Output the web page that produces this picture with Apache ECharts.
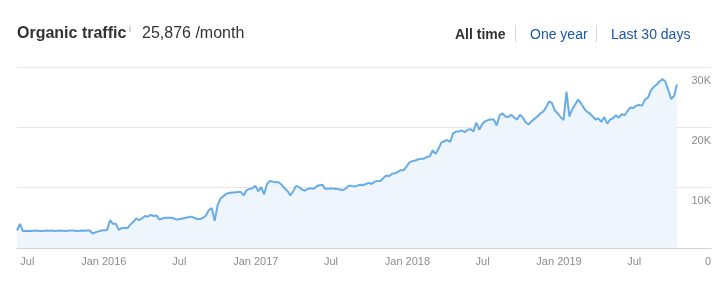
<!DOCTYPE html>
<html>
<head>
<meta charset="utf-8">
<script src="https://cdn.jsdelivr.net/npm/echarts@6/dist/echarts.min.js"></script>
<style>
html,body{margin:0;padding:0;background:#fff;}
#chart{width:717px;height:281px;}
</style>
</head>
<body>
<div id="chart"></div>
<script>
// Weekly samples starting 2015-06-06 (values in visits/month)
const startDate = '2015-06-06';
const stepDays = 7;
const trafficK = [
  2.9,4.0,2.8,2.8,2.85,2.8,2.9,2.85,2.8,2.8,2.9,2.85,2.9,2.8,2.85,2.9,2.85,2.8,2.9,2.9,2.85,2.8,2.9,2.85,2.9,
  2.9,2.4,2.6,2.75,2.9,2.95,3.0,4.6,4.0,4.0,3.0,3.3,3.3,3.3,3.9,4.3,4.9,4.6,4.9,5.3,5.2,5.5,5.3,5.4,4.7,
  4.9,5.0,5.0,5.0,4.9,4.7,4.8,4.9,5.0,5.1,5.2,5.0,4.8,4.8,5.0,5.4,6.3,6.6,4.5,7.1,8.2,8.6,9.0,9.1,9.2,
  9.2,9.3,9.3,8.7,9.6,9.8,9.9,10.3,9.4,10.1,8.9,10.6,11.1,11.0,10.9,10.9,10.5,9.9,9.5,8.7,9.4,10.3,10.1,9.7,9.5,
  9.8,9.9,9.8,10.2,10.4,10.5,9.8,9.8,9.9,9.8,9.8,9.7,9.6,9.8,10.3,10.3,10.2,10.3,10.5,10.4,10.6,10.8,10.6,11.0,11.1,
  11.1,11.6,12.0,11.9,12.3,12.4,12.6,12.9,12.9,13.5,14.2,14.4,14.5,14.7,14.8,14.8,15.1,15.2,16.2,15.6,16.5,17.5,17.7,17.9,17.6,
  19.0,19.3,19.3,19.5,19.2,19.6,19.7,19.3,20.8,19.6,20.5,21.0,21.2,21.3,21.3,20.3,22.0,22.3,21.8,21.7,22.1,21.6,21.3,22.1,21.6,
  20.8,20.5,21.0,21.4,21.8,22.3,22.6,23.3,24.3,24.0,22.8,22.3,21.7,21.2,25.9,21.8,23.0,23.8,24.6,24.0,23.2,22.6,22.3,21.8,21.3,
  21.5,20.9,21.7,20.6,21.3,21.5,22.0,21.6,22.2,22.0,22.7,23.3,23.2,23.6,23.7,23.6,24.6,24.9,26.1,26.7,27.1,27.6,28.0,27.6,26.2,
  24.7,25.2,27.1
];
const tickDates = ['2015-07-01','2016-01-01','2016-07-01','2017-01-01','2017-07-01','2018-01-01','2018-07-01','2019-01-01','2019-07-01'];
const tickLabels = ['Jul','Jan 2016','Jul','Jan 2017','Jul','Jan 2018','Jul','Jan 2019','Jul'];
const yTicks = [0, 10000, 20000, 30000];
const yTickLabels = ['0', '10K', '20K', '30K'];
const headline = 'Organic traffic';
const headlineValue = '25,876 /month';
const rangeLabels = ['All time', 'One year', 'Last 30 days'];

const DAY = 86400000;
const t0 = Date.parse(startDate);
const seriesData = trafficK.map((v, i) => [t0 + i * stepDays * DAY, Math.round(v * 1000)]);
const tickTs = tickDates.map(d => Date.parse(d));

const FONT = "'Liberation Sans', Arial, Helvetica, sans-serif";
const chart = echarts.init(document.getElementById('chart'), null, {renderer: 'canvas'});
chart.setOption({
  animation: false,
  grid: {left: 17, right: 6, top: 67, bottom: 33, containLabel: false},
  xAxis: {
    type: 'value',
    min: Date.parse('2015-06-06'),
    max: Date.parse('2020-01-02'),
    splitLine: {show: false},
    axisLine: {show: true, lineStyle: {color: '#d3d3d3', width: 1}},
    axisTick: {show: true, inside: true, length: 6, customValues: tickTs, lineStyle: {color: '#d3d3d3'}},
    axisLabel: {
      customValues: tickTs,
      margin: 8,
      color: '#8c8c8c',
      fontSize: 11,
      fontFamily: FONT,
      hideOverlap: false,
      formatter: function (val) {
        const idx = tickTs.indexOf(val);
        return idx >= 0 ? tickLabels[idx] : '';
      }
    }
  },
  yAxis: {
    type: 'value',
    position: 'right',
    min: 0,
    max: 30000,
    interval: 10000,
    axisLine: {show: false},
    axisTick: {show: false},
    splitLine: {show: true, lineStyle: {color: '#e6e6e6', width: 1}},
    axisLabel: {
      inside: true,
      margin: 0,
      color: '#8c8c8c',
      fontSize: 11,
      fontFamily: FONT,
      verticalAlign: 'top',
      align: 'right',
      padding: [8, 0, 0, 0],
      formatter: function (val) {
        const idx = yTicks.indexOf(val);
        return idx >= 0 ? yTickLabels[idx] : '';
      }
    }
  },
  series: [{
    type: 'line',
    data: seriesData,
    showSymbol: false,
    symbol: 'none',
    lineStyle: {color: '#68ace5', width: 2},
    areaStyle: {color: '#eef5fd', opacity: 1},
    z: 3
  }],
  graphic: [
    {type: 'text', left: 17, top: 26, style: {text: headline, font: "bold 16px " + FONT, fill: '#333'}},
    {type: 'text', left: 129, top: 25, style: {text: 'i', font: "9px " + FONT, fill: '#999'}},
    {type: 'text', left: 142, top: 26, style: {text: headlineValue, font: "16px " + FONT, fill: '#333'}},
    {type: 'text', left: 455, top: 28, style: {text: rangeLabels[0], font: "bold 14px " + FONT, fill: '#333'}},
    {type: 'line', shape: {x1: 515.5, y1: 25, x2: 515.5, y2: 42}, style: {stroke: '#d6d6d6', lineWidth: 1}},
    {type: 'text', left: 530, top: 28, style: {text: rangeLabels[1], font: "14px " + FONT, fill: '#1c56a5'}},
    {type: 'line', shape: {x1: 596.5, y1: 25, x2: 596.5, y2: 42}, style: {stroke: '#d6d6d6', lineWidth: 1}},
    {type: 'text', left: 611, top: 28, style: {text: rangeLabels[2], font: "14px " + FONT, fill: '#1c56a5'}}
  ]
});
</script>
</body>
</html>
